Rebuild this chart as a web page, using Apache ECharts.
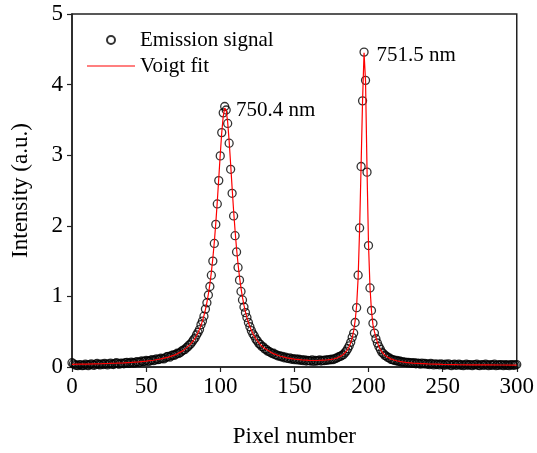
<!DOCTYPE html>
<html>
<head>
<meta charset="utf-8">
<script src="https://cdn.jsdelivr.net/npm/echarts@6/dist/echarts.min.js"></script>
<style>
html,body{margin:0;padding:0;background:#fff;}
#chart{width:537px;height:453px;}
</style>
</head>
<body>
<div id="chart"></div>
<script>
// Emission signal: one value per pixel, pixel 0..300
const signal = [
0.06,0.045,0.03,0.025,0.02,0.035,0.03,0.02,0.025,0.04,
0.03,0.02,0.035,0.045,0.03,0.025,0.04,0.05,0.035,0.03,
0.045,0.035,0.05,0.04,0.03,0.045,0.055,0.04,0.035,0.05,
0.06,0.045,0.04,0.055,0.05,0.045,0.06,0.065,0.05,0.055,
0.07,0.06,0.055,0.07,0.075,0.065,0.07,0.085,0.075,0.08,
0.095,0.085,0.08,0.095,0.105,0.09,0.1,0.115,0.105,0.11,
0.125,0.12,0.115,0.13,0.145,0.15,0.14,0.16,0.17,0.165,
0.18,0.195,0.19,0.205,0.225,0.24,0.245,0.27,0.285,0.31,
0.325,0.355,0.385,0.41,0.455,0.49,0.53,0.6,0.65,0.72,
0.82,0.91,1.02,1.14,1.30,1.50,1.75,2.02,2.31,2.64,
2.99,3.32,3.60,3.69,3.64,3.45,3.17,2.80,2.46,2.14,
1.86,1.63,1.41,1.23,1.07,0.95,0.85,0.77,0.70,0.63,
0.57,0.515,0.47,0.44,0.395,0.37,0.335,0.32,0.29,0.285,
0.255,0.25,0.225,0.22,0.205,0.19,0.195,0.175,0.17,0.155,
0.16,0.145,0.15,0.13,0.14,0.125,0.12,0.13,0.11,0.12,
0.105,0.115,0.1,0.11,0.095,0.105,0.09,0.1,0.085,0.095,
0.09,0.085,0.1,0.08,0.095,0.085,0.09,0.1,0.085,0.095,
0.09,0.1,0.095,0.105,0.1,0.11,0.105,0.115,0.125,0.13,
0.145,0.15,0.165,0.175,0.2,0.225,0.26,0.3,0.35,0.42,
0.48,0.63,0.84,1.30,1.97,2.84,3.77,4.46,4.06,2.76,
1.72,1.12,0.80,0.62,0.48,0.40,0.34,0.29,0.25,0.21,
0.19,0.165,0.155,0.135,0.13,0.11,0.105,0.1,0.09,0.095,
0.08,0.085,0.07,0.075,0.065,0.07,0.06,0.065,0.055,0.06,
0.05,0.06,0.045,0.055,0.05,0.04,0.055,0.045,0.05,0.04,
0.045,0.035,0.05,0.04,0.03,0.045,0.035,0.04,0.03,0.045,
0.035,0.025,0.04,0.03,0.045,0.03,0.02,0.035,0.04,0.025,
0.03,0.04,0.025,0.035,0.02,0.03,0.04,0.025,0.035,0.03,
0.02,0.035,0.03,0.04,0.025,0.02,0.035,0.03,0.025,0.04,
0.03,0.02,0.035,0.025,0.03,0.04,0.02,0.03,0.025,0.035,
0.03,0.02,0.035,0.025,0.03,0.02,0.035,0.03,0.025,0.03,
0.035
];

// Voigt fit curve
const fitX = [
0,5,10,15,20,25,30,35,40,45,50,55,60,65,70,75,
80,81,82,83,84,85,86,87,88,89,90,91,92,93,94,95,96,97,98,99,
100,101,102,103,104,105,106,107,108,109,110,111,112,113,114,115,116,117,118,119,
120,121,122,123,124,125,126,127,128,129,130,
135,140,145,150,155,160,165,170,175,
176,177,178,179,180,181,182,183,184,185,186,187,188,189,
190,191,192,193,194,195,196,197,198,199,
200,201,202,203,204,205,206,207,208,209,
210,211,212,213,214,215,216,217,218,219,
220,221,222,223,224,225,
230,240,250,260,270,280,290,300
];
const fitY = [
0.038,0.040,0.042,0.045,0.047,0.050,0.054,0.059,0.065,0.073,0.083,0.096,0.114,0.140,0.176,0.232,
0.324,0.350,0.378,0.410,0.446,0.488,0.536,0.590,0.654,0.728,0.813,0.915,1.034,1.176,1.342,1.540,1.771,2.039,2.343,2.673,
3.009,3.317,3.551,3.666,3.637,3.469,3.200,2.876,2.538,2.217,1.929,1.675,1.458,1.274,1.118,0.986,0.875,0.781,0.699,0.629,
0.570,0.519,0.474,0.434,0.400,0.369,0.342,0.318,0.296,0.277,0.261,
0.197,0.156,0.130,0.112,0.100,0.094,0.092,0.096,0.108,
0.112,0.117,0.123,0.130,0.139,0.150,0.162,0.177,0.196,0.221,0.251,0.291,0.343,0.414,
0.514,0.656,0.871,1.26,1.95,2.85,3.78,4.45,4.05,2.80,
1.74,1.13,0.80,0.60,0.50,0.424,0.348,0.292,0.248,0.216,
0.190,0.168,0.151,0.137,0.126,0.115,0.107,0.100,0.094,0.088,
0.083,0.079,0.075,0.072,0.069,0.066,
0.055,0.044,0.038,0.034,0.031,0.030,0.028,0.027
];

const xTicks = [0, 50, 100, 150, 200, 250, 300];
const yTicks = [0, 1, 2, 3, 4, 5];

const peakLabels = ['750.4 nm', '751.5 nm'];
const peakLabelAt = [[110.7, 3.63], [205.4, 4.41]];

const FONT = "'Liberation Serif','Times New Roman',serif";

const chart = echarts.init(document.getElementById('chart'), null, {renderer: 'canvas'});

const signalData = signal.map((v, i) => [i, v]);
const fitData = fitX.map((x, i) => [x, fitY[i]]);

chart.setOption({
  animation: false,
  backgroundColor: '#fff',
  grid: {
    left: 72, right: 18, top: 14, bottom: 84,
    show: true, borderColor: '#222', borderWidth: 1.5, backgroundColor: 'transparent'
  },
  legend: {
    orient: 'vertical',
    left: 87, top: 29, padding: 0,
    itemWidth: 48, itemHeight: 8,
    itemGap: 4,
    symbolKeepAspect: true,
    textStyle: {fontFamily: FONT, fontSize: 21, color: '#000', lineHeight: 22},
    data: [
      {name: 'Emission signal'},
      {name: 'Voigt fit', icon: 'path://M0,0H48V1.2H0Z'}
    ]
  },
  xAxis: {
    type: 'value', min: xTicks[0], max: xTicks[xTicks.length - 1], interval: 50,
    name: 'Pixel number', nameLocation: 'middle', nameGap: 58,
    nameTextStyle: {fontFamily: FONT, fontSize: 23, color: '#000'},
    axisLine: {lineStyle: {color: '#222', width: 1.5}},
    axisTick: {show: true, inside: false, length: 5, lineStyle: {color: '#222', width: 1.2}},
    axisLabel: {fontFamily: FONT, fontSize: 23, color: '#000', margin: 8},
    splitLine: {show: false}
  },
  yAxis: {
    type: 'value', min: yTicks[0], max: yTicks[yTicks.length - 1], interval: 1,
    name: 'Intensity (a.u.)', nameLocation: 'middle', nameGap: 40,
    nameTextStyle: {fontFamily: FONT, fontSize: 23, color: '#000'},
    axisLine: {lineStyle: {color: '#222', width: 1.5}},
    axisTick: {show: true, inside: false, length: 5, lineStyle: {color: '#222', width: 1.2}},
    axisLabel: {fontFamily: FONT, fontSize: 23, color: '#000', margin: 9},
    splitLine: {show: false}
  },
  series: [
    {
      name: 'Emission signal',
      type: 'scatter',
      data: signalData,
      symbol: 'circle',
      symbolSize: 8,
      itemStyle: {color: 'rgba(255,255,255,0)', borderColor: '#000', borderWidth: 1.3},
      z: 2
    },
    {
      name: 'Voigt fit',
      type: 'line',
      data: fitData,
      showSymbol: false,
      symbol: 'none',
      lineStyle: {color: '#ff0000', width: 1.2},
      itemStyle: {color: '#ff0000'},
      z: 3
    }
  ]
});

const g = peakLabels.map((t, i) => {
  const p = chart.convertToPixel({gridIndex: 0}, peakLabelAt[i]);
  return {
    type: 'text', left: p[0], top: p[1] - 11,
    style: {text: t, font: "21px 'Liberation Serif','Times New Roman',serif", fill: '#000'}
  };
});
chart.setOption({graphic: g});
</script>
</body>
</html>
